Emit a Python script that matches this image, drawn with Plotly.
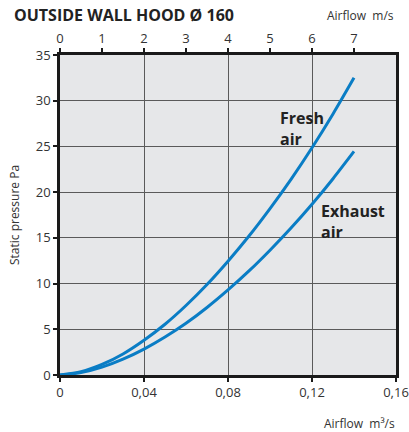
import plotly.graph_objects as go

# Airflow (m³/s) and static pressure (Pa) for the two air directions
airflow = [0, 0.01, 0.02, 0.03, 0.04, 0.05, 0.06, 0.07, 0.08, 0.09, 0.10, 0.11, 0.12, 0.13, 0.14]
fresh_air = [0, 0.35, 1.15, 2.3, 3.8, 5.55, 7.6, 9.9, 12.45, 15.2, 18.2, 21.4, 24.85, 28.55, 32.5]
exhaust_air = [0, 0.26, 0.86, 1.73, 2.83, 4.15, 5.65, 7.38, 9.3, 11.38, 13.65, 16.07, 18.67, 21.47, 24.45]

y_ticks = [0, 5, 10, 15, 20, 25, 30, 35]
x_ticks = [0, 0.04, 0.08, 0.12, 0.16]
x_tick_labels = ["0", "0,04", "0,08", "0,12", "0,16"]
velocity_ticks = [0, 1, 2, 3, 4, 5, 6, 7]

BLUE = "#0a7dc5"
FONT = "Open Sans"
TEXT = "#333333"

fig = go.Figure()
for ys in (fresh_air, exhaust_air):
    fig.add_trace(go.Scatter(
        x=airflow, y=ys, mode="lines",
        line=dict(color=BLUE, width=3, shape="spline", smoothing=0.8),
        showlegend=False, hoverinfo="skip",
    ))

axis_common = dict(
    showline=True, linecolor="#1a1a1a", linewidth=2.5,
    gridcolor="#5a5a5a", gridwidth=1,
    ticks="outside", ticklen=4, tickwidth=1.5, tickcolor="#1a1a1a",
    tickfont=dict(family=FONT, size=13, color=TEXT),
    zeroline=False, automargin=False,
)

fig.update_layout(
    width=409, height=432,
    margin=dict(l=60, r=13, t=55, b=57),
    paper_bgcolor="white",
    plot_bgcolor="#e6e7e9",
    font=dict(family=FONT, color=TEXT),
    xaxis=dict(
        range=[0, 0.16], tickvals=x_ticks, ticktext=x_tick_labels,
        mirror=True, **axis_common,
    ),
    yaxis=dict(
        range=[0, 35], tickvals=y_ticks, mirror=True,
        title=dict(text="Static pressure Pa", font=dict(family=FONT, size=12, color=TEXT), standoff=14),
        **axis_common,
    ),
    xaxis2=dict(
        overlaying="x", side="top", range=[0, 8], tickvals=velocity_ticks,
        showgrid=False, showline=True, linecolor="#1a1a1a", linewidth=2.5,
        ticks="outside", ticklen=4, tickwidth=1.5, tickcolor="#1a1a1a",
        tickfont=dict(family=FONT, size=13, color=TEXT), zeroline=False,
        automargin=False,
    ),
)

# Empty trace so the velocity axis is attached to data
fig.add_trace(go.Scatter(x=[None], y=[None], xaxis="x2", showlegend=False, hoverinfo="skip"))

annotations = [
    dict(text="<b>OUTSIDE WALL HOOD Ø 160</b>", x=0, xref="paper", xshift=-48, y=1, yref="paper",
         yshift=40, xanchor="left", yanchor="middle", showarrow=False,
         font=dict(family=FONT, size=16, color="#222222")),
    dict(text="Airflow  m/s", x=1, xref="paper", y=1, yref="paper", yshift=40,
         xanchor="right", yanchor="middle", showarrow=False,
         font=dict(family=FONT, size=12, color=TEXT)),
    dict(text="Airflow  m³/s", x=1, xref="paper", y=0, yref="paper", yshift=-48,
         xanchor="right", yanchor="middle", showarrow=False, borderpad=0,
         font=dict(family=FONT, size=12, color=TEXT)),
    dict(text="<b>Fresh<br>air</b>", x=0.1040, y=27.0, xanchor="left", yanchor="middle",
         showarrow=False, align="left",
         font=dict(family=FONT, size=16, color="#222222")),
    dict(text="<b>Exhaust<br>air</b>", x=0.1232, y=16.8, xanchor="left", yanchor="middle",
         showarrow=False, align="left",
         font=dict(family=FONT, size=16, color="#222222")),
]
for a in annotations:
    fig.add_annotation(**a)

fig.write_html("out.html")
